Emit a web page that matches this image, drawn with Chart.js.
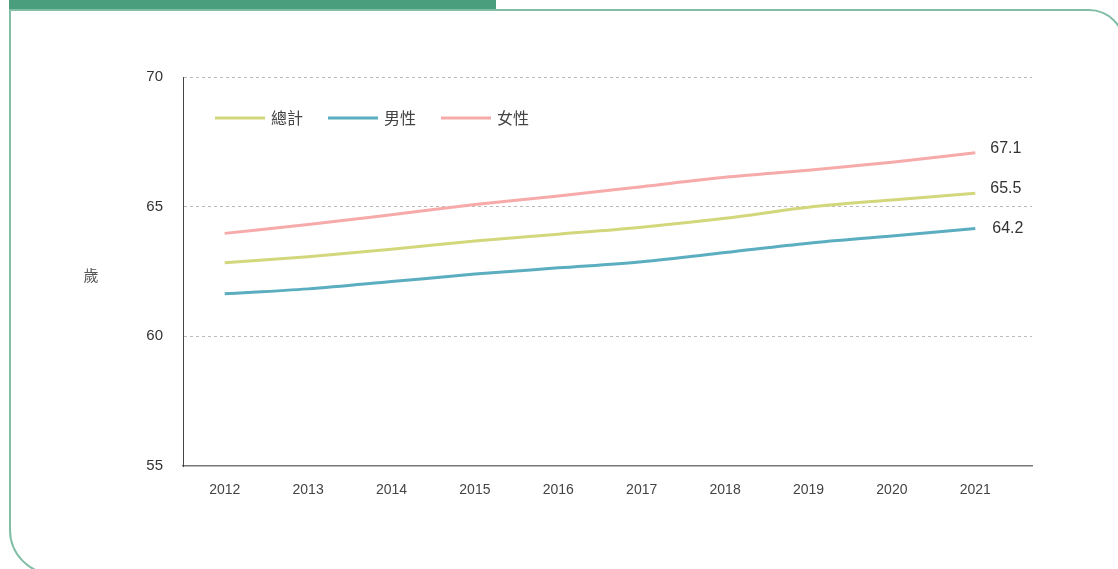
<!DOCTYPE html>
<html>
<head>
<meta charset="utf-8">
<script src="https://cdn.jsdelivr.net/npm/chart.js@4.4.1/dist/chart.umd.min.js"></script>
<style>
  html, body { margin: 0; padding: 0; background: #fff; overflow: hidden; }
  #wrap { position: relative; width: 1118px; height: 569px; overflow: hidden; }
  #topbar { position: absolute; left: 9px; top: 0; width: 487px; height: 9px; background: #4a9e7d; }
  #card { position: absolute; left: 9px; top: 9px; width: 1116px; height: 566px;
          border: 2.5px solid #80bea5; border-radius: 0 36px 0 45px; box-sizing: border-box; }
  #cv { position: absolute; left: 0; top: 0; }
</style>
</head>
<body>
<div id="wrap">
  <div id="topbar"></div>
  <div id="card"></div>
  <canvas id="cv" width="1118" height="569"></canvas>
</div>
<script>
const years = [2012, 2013, 2014, 2015, 2016, 2017, 2018, 2019, 2020, 2021];
const seriesNames = ['總計', '男性', '女性'];
const totalValues  = [62.84, 63.07, 63.36, 63.68, 63.94, 64.21, 64.55, 64.98, 65.26, 65.52];
const maleValues   = [61.64, 61.83, 62.11, 62.40, 62.64, 62.88, 63.23, 63.59, 63.87, 64.16];
const femaleValues = [63.97, 64.31, 64.69, 65.08, 65.41, 65.77, 66.13, 66.40, 66.71, 67.08];
const yTicks = [55, 60, 65, 70];
const yAxisTitle = '歲';

const colors = ['#d3d77b', '#5badc0', '#f7aaaa'];
const endLabelOffsets = [-5, 0, -4];
const FONT = '"Liberation Sans", Arial, "Noto Sans CJK TC", sans-serif';
const CJK = '"Noto Sans CJK TC", "Liberation Sans", sans-serif';

const allSeries = [totalValues, maleValues, femaleValues];
const datasets = allSeries.map((vals, i) => ({
  label: seriesNames[i],
  data: years.map((yr, k) => ({ x: yr, y: vals[k] })),
  borderColor: colors[i],
  backgroundColor: colors[i],
  borderWidth: 3,
  pointRadius: 0,
  pointHoverRadius: 0,
  cubicInterpolationMode: 'monotone',
  fill: false
}));

const extrasPlugin = {
  id: 'extras',
  afterDatasetsDraw(chart) {
    const ctx = chart.ctx;
    const ca = chart.chartArea;
    ctx.save();
    // end labels
    ctx.font = '16px ' + FONT;
    ctx.fillStyle = '#333';
    ctx.textAlign = 'left';
    ctx.textBaseline = 'middle';
    chart.data.datasets.forEach((ds, i) => {
      const meta = chart.getDatasetMeta(i);
      const last = meta.data[meta.data.length - 1];
      const v = ds.data[ds.data.length - 1].y;
      ctx.fillText(v.toFixed(1), last.x + 15 + (i === 1 ? 2 : 0), last.y + endLabelOffsets[i]);
    });
    // legend
    ctx.font = '16px ' + CJK;
    ctx.fillStyle = '#444';
    let x = ca.left + 32;
    const ly = ca.top + 41;
    seriesNames.forEach((name, i) => {
      ctx.strokeStyle = colors[i];
      ctx.lineWidth = 3;
      ctx.beginPath();
      ctx.moveTo(x, ly);
      ctx.lineTo(x + 50, ly);
      ctx.stroke();
      ctx.fillText(name, x + 56, ly);
      x += 56 + ctx.measureText(name).width + 25;
    });
    // y axis title
    ctx.font = '15px ' + CJK;
    ctx.fillStyle = '#555';
    ctx.textAlign = 'center';
    ctx.fillText(yAxisTitle, 91, (ca.top + ca.bottom) / 2 + 4);
    ctx.restore();
  }
};

new Chart(document.getElementById('cv'), {
  type: 'line',
  data: { datasets },
  options: {
    responsive: false,
    animation: false,
    devicePixelRatio: 1,
    layout: { padding: { left: 0, right: 86, top: 77, bottom: 0 } },
    plugins: { legend: { display: false }, tooltip: { enabled: false } },
    scales: {
      x: {
        type: 'linear',
        min: 2011.5,
        max: 2021.68,
        afterBuildTicks(scale) {
          scale.ticks = years.map(v => ({ value: v }));
        },
        afterFit(scale) { scale.height = 103; },
        ticks: {
          font: { size: 14, family: FONT },
          color: '#444',
          padding: 16,
          callback: v => String(v)
        },
        grid: { display: false, drawTicks: false },
        border: { display: true, color: '#777', width: 1.5 }
      },
      y: {
        min: 55,
        max: 70,
        afterBuildTicks(scale) {
          scale.ticks = yTicks.map(v => ({ value: v }));
        },
        afterFit(scale) { scale.width = 183; },
        ticks: {
          font: { size: 15, family: FONT },
          color: '#333',
          padding: 20
        },
        grid: {
          drawTicks: false,
          color: ctx => (ctx.tick && ctx.tick.value === 55) ? 'rgba(0,0,0,0)' : '#bbbbbb',
          lineWidth: 1
        },
        border: { display: true, color: '#444', width: 1, dash: [3, 3] }
      }
    }
  },
  plugins: [extrasPlugin]
});
</script>
</body>
</html>
